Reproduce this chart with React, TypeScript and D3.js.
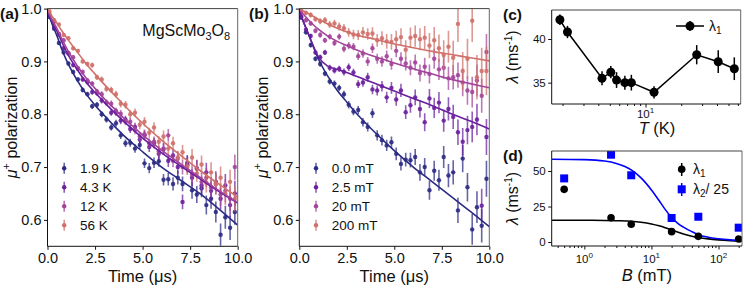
import React, { useEffect, useRef } from 'react';
import * as d3 from 'd3';

// time bins shared by panels (a) and (b), in microseconds
const times = [0.1, 0.35, 0.6, 0.85, 1.1, 1.35, 1.6, 1.85, 2.1, 2.35, 2.6, 2.85, 3.1, 3.35, 3.6, 3.85, 4.1, 4.35, 4.6, 4.85,
  5.1, 5.35, 5.6, 5.85, 6.1, 6.35, 6.6, 6.85, 7.1, 7.35, 7.6, 7.85, 8.1, 8.35, 8.6, 8.85, 9.1, 9.35, 9.6, 9.85];

const errA = [0.003, 0.003, 0.003, 0.0035, 0.0035, 0.004, 0.004, 0.0045, 0.0045, 0.005, 0.005, 0.0055, 0.0055, 0.006, 0.0065, 0.007, 0.007, 0.0075, 0.008, 0.0085,
  0.009, 0.0095, 0.01, 0.0105, 0.011, 0.012, 0.0125, 0.013, 0.014, 0.015, 0.016, 0.016, 0.017, 0.018, 0.019, 0.02, 0.021, 0.022, 0.023, 0.024];
const errB = [0.004, 0.004, 0.0045, 0.0045, 0.005, 0.005, 0.0055, 0.006, 0.006, 0.0065, 0.007, 0.007, 0.0075, 0.008, 0.0085, 0.009, 0.0095, 0.01, 0.0105, 0.011,
  0.012, 0.0125, 0.013, 0.014, 0.015, 0.016, 0.017, 0.018, 0.019, 0.02, 0.021, 0.022, 0.023, 0.024, 0.026, 0.027, 0.029, 0.03, 0.032, 0.034];
const errB200 = [0.004, 0.0045, 0.005, 0.005, 0.0055, 0.006, 0.0065, 0.007, 0.0075, 0.008, 0.0085, 0.009, 0.0095, 0.01, 0.011, 0.0115, 0.012, 0.013, 0.014, 0.015,
  0.016, 0.017, 0.018, 0.019, 0.02, 0.021, 0.022, 0.024, 0.025, 0.026, 0.028, 0.03, 0.032, 0.034, 0.036, 0.038, 0.04, 0.042, 0.044, 0.046];

// (a) temperature series
const tempLabels = ['1.9 K', '4.3 K', '12 K', '56 K'];
const pol19K = [0.984, 0.962, 0.935, 0.917, 0.896, 0.88, 0.866, 0.846, 0.838, 0.815, 0.818, 0.8, 0.79, 0.775, 0.783, 0.76, 0.745, 0.746, 0.735, 0.742,
  0.707, 0.698, 0.708, 0.711, 0.676, 0.677, 0.668, 0.68, 0.668, 0.708, 0.656, 0.648, 0.66, 0.628, 0.64, 0.615, 0.572, 0.605, 0.585, 0.615];
const pol43K = [0.988, 0.965, 0.951, 0.925, 0.915, 0.893, 0.886, 0.866, 0.861, 0.842, 0.84, 0.826, 0.822, 0.803, 0.806, 0.788, 0.79, 0.772, 0.776, 0.752,
  0.76, 0.738, 0.745, 0.725, 0.734, 0.712, 0.722, 0.7, 0.634, 0.705, 0.68, 0.698, 0.665, 0.69, 0.655, 0.672, 0.64, 0.665, 0.628, 0.65];
const pol12K = [0.99, 0.975, 0.952, 0.94, 0.916, 0.908, 0.887, 0.88, 0.864, 0.858, 0.843, 0.838, 0.822, 0.82, 0.803, 0.801, 0.786, 0.786, 0.77, 0.758,
  0.762, 0.745, 0.748, 0.73, 0.735, 0.76, 0.712, 0.716, 0.7, 0.703, 0.686, 0.697, 0.672, 0.68, 0.662, 0.668, 0.648, 0.655, 0.64, 0.7];
const pol56K = [0.995, 0.978, 0.97, 0.95, 0.944, 0.925, 0.92, 0.9, 0.895, 0.893, 0.87, 0.866, 0.848, 0.846, 0.838, 0.82, 0.818, 0.8, 0.803, 0.78,
  0.786, 0.765, 0.775, 0.748, 0.758, 0.735, 0.745, 0.718, 0.728, 0.7, 0.718, 0.688, 0.705, 0.67, 0.69, 0.668, 0.68, 0.65, 0.672, 0.64];

// (b) field series
const fieldLabels = ['0.0 mT', '2.5 mT', '20 mT', '200 mT'];
const pol0mT = [0.983, 0.955, 0.931, 0.905, 0.895, 0.877, 0.862, 0.858, 0.85, 0.838, 0.818, 0.805, 0.808, 0.785, 0.776, 0.802, 0.76, 0.751, 0.741, 0.747,
  0.725, 0.706, 0.714, 0.713, 0.719, 0.69, 0.7, 0.656, 0.693, 0.675, 0.719, 0.684, 0.69, 0.618, 0.716, 0.662, 0.582, 0.624, 0.589, 0.678];
const pol25mT = [0.985, 0.96, 0.948, 0.917, 0.908, 0.917, 0.888, 0.883, 0.886, 0.88, 0.889, 0.879, 0.857, 0.86, 0.87, 0.847, 0.845, 0.853, 0.832, 0.85,
  0.828, 0.845, 0.804, 0.817, 0.832, 0.81, 0.785, 0.83, 0.812, 0.822, 0.788, 0.81, 0.795, 0.766, 0.748, 0.77, 0.776, 0.79, 0.627, 0.757];
const pol20mT = [0.992, 0.978, 0.972, 0.958, 0.95, 0.94, 0.947, 0.935, 0.947, 0.924, 0.93, 0.928, 0.91, 0.915, 0.9, 0.925, 0.905, 0.9, 0.91, 0.895,
  0.92, 0.905, 0.896, 0.888, 0.898, 0.878, 0.89, 0.876, 0.905, 0.885, 0.888, 0.868, 0.87, 0.874, 0.86, 0.845, 0.842, 0.864, 0.835, 0.918];
const pol200mT = [0.997, 0.992, 0.988, 0.98, 0.976, 0.978, 0.97, 0.972, 0.966, 0.963, 0.955, 0.951, 0.95, 0.955, 0.952, 0.953, 0.94, 0.944, 0.938, 0.937,
  0.942, 0.946, 0.922, 0.945, 0.948, 0.942, 0.945, 0.93, 0.94, 0.925, 0.912, 0.928, 0.907, 0.971, 0.882, 0.905, 0.977, 0.87, 0.882, 0.882];

// fit curves, sampled at these times
const fitT = [0, 0.25, 0.5, 0.75, 1, 1.5, 2, 2.5, 3, 3.5, 4, 5, 6, 7, 8, 9, 10];
const fit19K = [0.995, 0.97, 0.948, 0.923, 0.902, 0.868, 0.84, 0.817, 0.797, 0.778, 0.76, 0.729, 0.7, 0.675, 0.65, 0.621, 0.59];
const fit43K = [0.995, 0.975, 0.957, 0.937, 0.918, 0.888, 0.862, 0.841, 0.822, 0.804, 0.787, 0.755, 0.727, 0.702, 0.678, 0.654, 0.632];
const fit12K = [0.997, 0.978, 0.962, 0.943, 0.925, 0.895, 0.87, 0.849, 0.829, 0.811, 0.793, 0.761, 0.732, 0.706, 0.681, 0.656, 0.633];
const fit56K = [0.998, 0.985, 0.972, 0.958, 0.945, 0.921, 0.897, 0.876, 0.856, 0.837, 0.818, 0.783, 0.751, 0.722, 0.694, 0.668, 0.643];
const fit0mT = [0.995, 0.972, 0.95, 0.927, 0.905, 0.872, 0.845, 0.823, 0.802, 0.783, 0.765, 0.731, 0.7, 0.672, 0.644, 0.616, 0.587];
const fit25mT = [0.995, 0.972, 0.95, 0.928, 0.909, 0.891, 0.885, 0.879, 0.872, 0.865, 0.858, 0.844, 0.83, 0.816, 0.801, 0.787, 0.772];
const fit20mT = [0.998, 0.988, 0.978, 0.969, 0.961, 0.948, 0.938, 0.93, 0.922, 0.915, 0.909, 0.897, 0.886, 0.876, 0.866, 0.858, 0.85];
const fit200mT = [0.999, 0.995, 0.99, 0.985, 0.98, 0.971, 0.963, 0.956, 0.95, 0.946, 0.942, 0.933, 0.926, 0.919, 0.913, 0.907, 0.901];

// (c) relaxation rate vs temperature
const tempC = [1.9, 2.2, 4.3, 5.1, 5.7, 6.7, 7.6, 11.8, 27, 41, 56];
const lambdaC = [42.2, 40.8, 35.5, 36.2, 35.3, 35.0, 35.0, 33.9, 38.2, 37.4, 36.6];
const lambdaCErr = [0.6, 0.7, 0.8, 0.7, 0.9, 0.8, 0.9, 0.7, 1.1, 1.3, 1.3];

// (d) relaxation rates vs field
const fieldD = [0.5, 2.5, 5, 20, 50, 200];
const lambda1D = [37.1, 17.1, 12.5, 7.3, 4.0, 2.1];
const lambda2D = [44.8, 61.5, 47.0, 16.9, 17.8, 10.1];
const fitB = [0.33, 1, 2, 3, 5, 7, 10, 13, 16, 20, 25, 30, 40, 50, 70, 100, 150, 224];
const fitL1 = [15.3, 15.3, 15.2, 15.0, 14.6, 13.9, 12.7, 11.4, 10.1, 8.5, 6.9, 5.6, 4.1, 3.2, 2.2, 1.5, 1.0, 0.7];
const fitL2 = [58.3, 58.0, 57.0, 55.3, 50.8, 45.2, 36.7, 29.2, 23.0, 17.3, 13.0, 10.5, 7.3, 5.2, 3.4, 2.3, 1.5, 1.0];

const colors = ['#2b2a84', '#6a1f9f', '#a3449a', '#d0706a'];
const FONT = '"Liberation Sans", Arial, sans-serif';

const App = () => {
  const svgRef = useRef<SVGSVGElement>(null);

  useEffect(() => {
    const svg = d3.select(svgRef.current);
    svg.selectAll('*').remove();
    svg.attr('font-family', FONT);
    const defs = svg.append('defs');

    const addClip = (id: string, x0: number, x1: number, y0: number, y1: number) => {
      defs.append('clipPath').attr('id', id).append('rect')
        .attr('x', x0).attr('y', y0).attr('width', x1 - x0).attr('height', y1 - y0);
    };

    const spines = (x0: number, x1: number, y0: number, y1: number) => {
      const g = svg.append('g').attr('stroke-width', 1).attr('fill', 'none');
      g.append('line').attr('x1', x0).attr('x2', x1).attr('y1', y0).attr('y2', y0).attr('stroke', '#444');
      g.append('line').attr('x1', x1).attr('x2', x1).attr('y1', y0).attr('y2', y1).attr('stroke', '#666');
      g.append('line').attr('x1', x0).attr('x2', x1).attr('y1', y1).attr('y2', y1).attr('stroke', '#111');
      g.append('line').attr('x1', x0).attr('x2', x0).attr('y1', y0).attr('y2', y1).attr('stroke', '#111');
    };

    const styleAxis = (g: any, size: number) => {
      g.attr('font-family', FONT).attr('font-size', size);
      g.select('.domain').remove();
      g.selectAll('.tick line').attr('stroke', '#111');
      g.selectAll('.tick text').attr('fill', '#111');
    };

    // ---------- panels (a) and (b) ----------
    const PT = 8.6, PB = 246.3;
    const drawDecay = (left: number, right: number, data: number[][], fits: number[][], errs: number[][], labels: string[], id: string) => {
      const x = d3.scaleLinear().domain([0, 10]).range([left, right]);
      const y = d3.scaleLinear().domain([0.55, 1.0]).range([PB, PT]);
      addClip(id, left, right, PT, PB);
      const g = svg.append('g').attr('clip-path', `url(#${id})`);

      data.forEach((vals, k) => {
        const pts = times.map((t, i) => ({ t, v: vals[i], e: errs[k][i] }));
        const s = g.append('g');
        s.selectAll('line').data(pts).join('line')
          .attr('x1', d => x(d.t)).attr('x2', d => x(d.t))
          .attr('y1', d => y(d.v - d.e)).attr('y2', d => y(d.v + d.e))
          .attr('stroke', colors[k]).attr('stroke-width', 1.6).attr('stroke-opacity', 0.72);
        s.selectAll('circle').data(pts).join('circle')
          .attr('cx', d => x(d.t)).attr('cy', d => y(d.v)).attr('r', 2.2)
          .attr('fill', colors[k]).attr('fill-opacity', 0.9);
      });

      const line = d3.line<number>().x((_, i) => x(fitT[i])).y(d => y(d)).curve(d3.curveMonotoneX);
      fits.forEach((f, k) => {
        g.append('path').attr('d', line(f)).attr('fill', 'none')
          .attr('stroke', colors[k]).attr('stroke-width', 1.6);
      });

      spines(left, right, PT, PB);

      svg.append('g').attr('transform', `translate(0,${PB})`)
        .call(d3.axisBottom(x).tickValues([0, 2.5, 5, 7.5, 10]).tickFormat(d3.format('.1f')).tickSize(3.5).tickPadding(3))
        .call(g2 => styleAxis(g2, 14.5));
      svg.append('g').attr('transform', `translate(${left},0)`)
        .call(d3.axisLeft(y).tickValues([0.6, 0.7, 0.8, 0.9, 1.0]).tickFormat(d3.format('.1f')).tickSize(3.5).tickPadding(2.5))
        .call(g2 => styleAxis(g2, 14.5));

      svg.append('text').attr('x', (left + right) / 2).attr('y', 281.5)
        .attr('text-anchor', 'middle').attr('font-size', 16.5).attr('fill', '#111').text('Time (μs)');

      const yl = svg.append('text')
        .attr('transform', `translate(${left - 31},${(PT + PB) / 2}) rotate(-90)`)
        .attr('text-anchor', 'middle').attr('font-size', 16).attr('fill', '#111');
      yl.append('tspan').attr('font-style', 'italic').text('μ');
      yl.append('tspan').attr('font-size', 11).attr('dy', -7).text('+');
      yl.append('tspan').attr('dy', 7).text(' polarization');

      // legend
      const ly = [168.3, 187.3, 206.3, 225.3];
      labels.forEach((lab, k) => {
        const lx = left + 16.7;
        svg.append('line').attr('x1', lx).attr('x2', lx).attr('y1', ly[k] - 5.5).attr('y2', ly[k] + 5.5)
          .attr('stroke', colors[k]).attr('stroke-width', 1.6).attr('stroke-opacity', 0.72);
        svg.append('circle').attr('cx', lx).attr('cy', ly[k]).attr('r', 2.2).attr('fill', colors[k]);
        svg.append('text').attr('x', left + 32.5).attr('y', ly[k] + 5).attr('font-size', 13.5)
          .attr('fill', '#111').text(lab);
      });
    };

    drawDecay(47.5, 237.7, [pol19K, pol43K, pol12K, pol56K], [fit19K, fit43K, fit12K, fit56K],
      [errA, errA, errA, errA], tempLabels, 'clipA');
    drawDecay(299.3, 489.3, [pol0mT, pol25mT, pol20mT, pol200mT], [fit0mT, fit25mT, fit20mT, fit200mT],
      [errB, errB, errB, errB200], fieldLabels, 'clipB');

    // compound name
    const nm = svg.append('text').attr('x', 142.3).attr('y', 36).attr('font-size', 16).attr('fill', '#111');
    nm.append('tspan').text('MgScMo');
    nm.append('tspan').attr('font-size', 11).attr('dy', 4).text('3');
    nm.append('tspan').attr('dy', -4).text('O');
    nm.append('tspan').attr('font-size', 11).attr('dy', 4).text('8');

    // ---------- log-axis helper ----------
    const logTicks = (x: any, yPos: number, labelDy: number, majors: number[], minors: number[], exps: string[]) => {
      svg.append('g').attr('transform', `translate(0,${yPos})`)
        .call(d3.axisBottom(x).tickValues(minors).tickFormat(() => '').tickSize(2))
        .call(g2 => styleAxis(g2, 11.5));
      svg.append('g').attr('transform', `translate(0,${yPos})`)
        .call(d3.axisBottom(x).tickValues(majors).tickFormat(() => '').tickSize(3.5))
        .call(g2 => styleAxis(g2, 11.5));
      majors.forEach((m, i) => {
        const t = svg.append('text').attr('x', x(m)).attr('y', yPos + labelDy).attr('text-anchor', 'middle')
          .attr('font-size', 11.5).attr('fill', '#111');
        t.append('tspan').text('10');
        t.append('tspan').attr('font-size', 8).attr('dy', -5).text(exps[i]);
      });
    };

    const lambdaLabel = (cx: number, cy: number) => {
      const t = svg.append('text').attr('transform', `translate(${cx},${cy}) rotate(-90)`)
        .attr('text-anchor', 'middle').attr('font-size', 16).attr('fill', '#111');
      t.append('tspan').attr('font-style', 'italic').text('λ');
      t.append('tspan').text(' (ms');
      t.append('tspan').attr('font-size', 10).attr('dy', -6).text('-1');
      t.append('tspan').attr('dy', 6).text(')');
    };

    // ---------- panel (c) ----------
    const cL = 551.7, cR = 740.7, cT = 10, cB = 104;
    const xc = d3.scaleLog().domain([1.62, 63.4]).range([cL, cR]);
    const yc = d3.scaleLinear().domain([32.56, 43.32]).range([cB, cT]);
    const cPts = tempC.map((t, i) => ({ t, v: lambdaC[i], e: lambdaCErr[i] }));
    const gc = svg.append('g');
    gc.append('path').attr('d', d3.line<any>().x(d => xc(d.t)).y(d => yc(d.v))(cPts))
      .attr('fill', 'none').attr('stroke', '#000').attr('stroke-width', 1.5);
    gc.selectAll('line.err').data(cPts).join('line').attr('class', 'err')
      .attr('x1', d => xc(d.t)).attr('x2', d => xc(d.t))
      .attr('y1', d => yc(d.v - d.e)).attr('y2', d => yc(d.v + d.e))
      .attr('stroke', '#000').attr('stroke-width', 1.5);
    gc.selectAll('circle').data(cPts).join('circle')
      .attr('cx', d => xc(d.t)).attr('cy', d => yc(d.v)).attr('r', 4.5).attr('fill', '#000');
    spines(cL, cR, cT, cB);
    svg.append('g').attr('transform', `translate(${cL},0)`)
      .call(d3.axisLeft(yc).tickValues([35, 40]).tickSize(3.5).tickPadding(2.5))
      .call(g2 => styleAxis(g2, 11.5));
    logTicks(xc, cB, 14.3, [10], [2, 3, 4, 5, 6, 7, 8, 9, 20, 30, 40, 50, 60], ['1']);
    const tl = svg.append('text').attr('x', 657).attr('y', 134).attr('text-anchor', 'middle')
      .attr('font-size', 16.5).attr('fill', '#111');
    tl.append('tspan').attr('font-style', 'italic').text('T');
    tl.append('tspan').text(' (K)');
    lambdaLabel(518, (cT + cB) / 2);
    // legend (c)
    svg.append('line').attr('x1', 676).attr('x2', 704).attr('y1', 26).attr('y2', 26).attr('stroke', '#000').attr('stroke-width', 1.5);
    svg.append('line').attr('x1', 690).attr('x2', 690).attr('y1', 21).attr('y2', 31).attr('stroke', '#000').attr('stroke-width', 1.5);
    svg.append('circle').attr('cx', 690).attr('cy', 26).attr('r', 4.5).attr('fill', '#000');
    const lc = svg.append('text').attr('x', 709).attr('y', 31).attr('font-size', 14).attr('fill', '#111');
    lc.append('tspan').text('λ');
    lc.append('tspan').attr('font-size', 10).attr('dy', 3).text('1');

    // ---------- panel (d) ----------
    const dL = 551.7, dR = 742, dT = 151, dB = 246;
    const xd = d3.scaleLog().domain([0.326, 224]).range([dL, dR]);
    const yd = d3.scaleLinear().domain([-2.8, 64.1]).range([dB, dT]);
    addClip('clipD', dL, dR, dT, dB);
    const gd = svg.append('g').attr('clip-path', 'url(#clipD)');
    const fitLine = d3.line<number>().x((_, i) => xd(fitB[i])).y(d => yd(d)).curve(d3.curveMonotoneX);
    gd.append('path').attr('d', fitLine(fitL1)).attr('fill', 'none').attr('stroke', '#000').attr('stroke-width', 1.6);
    gd.append('path').attr('d', fitLine(fitL2)).attr('fill', 'none').attr('stroke', '#0000ff').attr('stroke-width', 1.6);
    gd.selectAll('circle').data(fieldD).join('circle')
      .attr('cx', d => xd(d)).attr('cy', (_, i) => yd(lambda1D[i])).attr('r', 3.8).attr('fill', '#000');
    gd.selectAll('rect').data(fieldD).join('rect')
      .attr('x', d => xd(d) - 4).attr('y', (_, i) => yd(lambda2D[i]) - 4)
      .attr('width', 8).attr('height', 8).attr('fill', '#0000ff');
    spines(dL, dR, dT, dB);
    svg.append('g').attr('transform', `translate(${dL},0)`)
      .call(d3.axisLeft(yd).tickValues([0, 25, 50]).tickSize(3.5).tickPadding(2.5))
      .call(g2 => styleAxis(g2, 11.5));
    logTicks(xd, dB, 16.5, [1, 10, 100],
      [0.4, 0.5, 0.6, 0.7, 0.8, 0.9, 2, 3, 4, 5, 6, 7, 8, 9, 20, 30, 40, 50, 60, 70, 80, 90, 200], ['0', '1', '2']);
    const bl = svg.append('text').attr('x', (dL + dR) / 2).attr('y', 280.5).attr('text-anchor', 'middle')
      .attr('font-size', 16.5).attr('fill', '#111');
    bl.append('tspan').attr('font-style', 'italic').text('B');
    bl.append('tspan').text(' (mT)');
    lambdaLabel(518, (dT + dB) / 2);
    // legend (d)
    svg.append('line').attr('x1', 681.7).attr('x2', 681.7).attr('y1', 163).attr('y2', 176).attr('stroke', '#000').attr('stroke-width', 1.5);
    svg.append('circle').attr('cx', 681.7).attr('cy', 169.3).attr('r', 3.8).attr('fill', '#000');
    svg.append('line').attr('x1', 681.7).attr('x2', 681.7).attr('y1', 183).attr('y2', 196).attr('stroke', '#0000ff').attr('stroke-width', 1.5);
    svg.append('rect').attr('x', 677.7).attr('y', 185.3).attr('width', 8).attr('height', 8).attr('fill', '#0000ff');
    const l1 = svg.append('text').attr('x', 693).attr('y', 174).attr('font-size', 14).attr('fill', '#111');
    l1.append('tspan').text('λ');
    l1.append('tspan').attr('font-size', 10).attr('dy', 3).text('1');
    const l2 = svg.append('text').attr('x', 693).attr('y', 194).attr('font-size', 14).attr('fill', '#111');
    l2.append('tspan').text('λ');
    l2.append('tspan').attr('font-size', 10).attr('dy', 3).text('2');
    l2.append('tspan').attr('dy', -3).text('/ 25');

    // panel letters
    [['(a)', 0, 19], ['(b)', 249, 19], ['(c)', 503, 20], ['(d)', 503, 161]].forEach(([s, x, y]) => {
      svg.append('text').attr('x', x as number).attr('y', y as number).attr('font-size', 15.5)
        .attr('font-weight', 'bold').attr('fill', '#111').text(s as string);
    });
  }, []);

  return (
    <div style={{ position: 'absolute', left: 0, top: 0 }}>
      <svg ref={svgRef} width="748" height="290" style={{ display: 'block', background: '#fff' }} />
    </div>
  );
};

export default App;
